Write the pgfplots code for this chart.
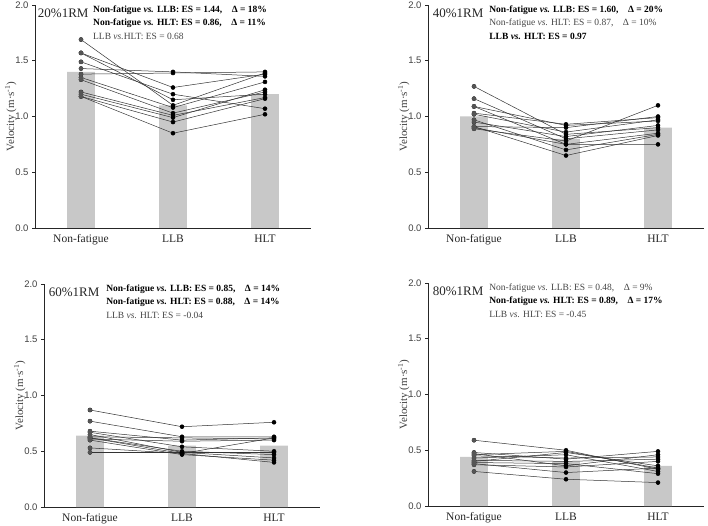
\documentclass[border=0pt]{standalone}
\usepackage{fontspec}
\setmainfont{Liberation Serif}
\setsansfont{Liberation Sans}
\usepackage{pgfplots}
\pgfplotsset{compat=1.18}
\usepackage{pgfplotstable}
\definecolor{barg}{RGB}{200,200,200}
\definecolor{nfg}{RGB}{85,85,85}
\definecolor{txtg}{RGB}{70,70,70}

% rows: x = 0 Non-fatigue, 1 LLB, 2 HLT ; columns: subjects
\pgfplotstableread{
x s1 s2 s3 s4 s5 s6 s7 s8 s9 s10 s11 s12
0 1.69 1.57 1.49 1.43 1.38 1.35 1.33 1.22 1.20 1.18 1.18 1.57
1 1.10 1.15 1.20 1.40 1.39 1.08 1.03 1.01 0.99 0.95 0.85 1.26
2 1.39 1.20 1.07 1.36 1.40 1.31 1.22 1.17 1.24 1.16 1.02 1.38
}\tabA
\pgfplotstableread{
x s1 s2 s3 s4 s5 s6 s7 s8 s9 s10 s11 s12
0 1.27 1.16 1.09 1.09 1.03 1.02 0.97 0.95 0.91 0.90 0.89 0.91
1 0.84 0.80 0.92 0.75 0.93 0.86 0.70 0.82 0.65 0.75 0.78 0.90
2 0.90 0.88 0.96 0.85 0.99 0.97 0.84 0.92 0.83 0.75 1.10 1.00
}\tabB
\pgfplotstableread{
x s1 s2 s3 s4 s5 s6 s7 s8 s9 s10 s11 s12
0 0.87 0.77 0.68 0.67 0.65 0.63 0.62 0.61 0.60 0.53 0.49 0.62
1 0.72 0.63 0.60 0.54 0.49 0.62 0.48 0.59 0.47 0.48 0.49 0.50
2 0.76 0.63 0.62 0.50 0.44 0.61 0.40 0.60 0.42 0.62 0.49 0.47
}\tabC
\pgfplotstableread{
x s1 s2 s3 s4 s5 s6 s7 s8 s9 s10 s11 s12
0 0.59 0.48 0.47 0.46 0.45 0.43 0.41 0.40 0.39 0.38 0.37 0.31
1 0.50 0.42 0.36 0.49 0.43 0.46 0.40 0.48 0.38 0.30 0.35 0.24
2 0.33 0.49 0.46 0.34 0.44 0.31 0.42 0.36 0.29 0.34 0.40 0.21
}\tabD

\pgfplotsset{vel/.style={
  scale only axis, width=276pt, height=223pt,
  xmin=-0.5, xmax=2.5, ymin=0, ymax=2,
  axis x line*=bottom, axis y line*=left,
  axis line style={-, black!85, line width=0.6pt},
  ytick={0,0.5,1,1.5,2},
  xtick={0,1,2}, xticklabels={Non-fatigue,LLB,HLT},
  tick align=outside, major tick length=3pt,
  y tick style={black!85, line width=0.6pt},
  x tick style={draw=none},
  y tick label style={font=\sffamily\fontsize{9.5}{11}\selectfont, text=black!75,
     /pgf/number format/.cd, fixed, fixed zerofill, precision=1, assume math mode=true},
  x tick label style={font=\fontsize{11.5}{13}\selectfont, text=black!85},
  ylabel={Velocity (m·s\textsuperscript{-1})},
  ylabel style={font=\fontsize{11}{13}\selectfont, text=black!75},
  ylabel shift=-8pt,
  clip=false,
}}

\newcommand{\subjects}[1]{%
  \pgfplotsinvokeforeach{1,...,12}{%
    \addplot[black!80, line width=0.5pt, mark=*, mark size=2pt, mark options={fill=black, draw=black}] table[x=x, y=s##1]{#1};
  }%
  \pgfplotsinvokeforeach{1,...,12}{%
    \addplot[only marks, mark=*, mark size=2pt, draw=nfg, fill=nfg, restrict x to domain=-0.1:0.1] table[x=x, y=s##1]{#1};
  }%
}

\tikzset{lab/.style={anchor=west, font=\fontsize{13}{15}\selectfont, inner sep=0pt, text=black!85},
         ann/.style={anchor=west, font=\fontsize{9.5}{11}\selectfont, inner sep=0pt}}

\begin{document}
\begin{tikzpicture}[x=1pt,y=1pt]
\useasboundingbox (0,0) rectangle (708,525);

% 20%
\begin{axis}[vel, at={(35pt,297pt)}, anchor=south west]
\addplot[ybar, bar width=0.3, fill=barg, draw=none] coordinates {(0,1.40) (1,1.10) (2,1.20)};
\subjects{\tabA}
\node[lab] at (axis cs:-0.47,1.93) {20\%1RM};
\node[ann] at (axis cs:0.13,1.95) {\textbf{Non-fatigue \textit{vs.} LLB: ES = 1.44,\quad Δ = 18\%}};
\node[ann] at (axis cs:0.13,1.833) {\textbf{Non-fatigue \textit{vs.} HLT: ES = 0.86,\quad Δ = 11\%}};
\node[ann, text=txtg] at (axis cs:0.13,1.716) {LLB \textit{vs.}HLT: ES = 0.68};
\end{axis}

% 40%
\begin{axis}[vel, at={(428pt,297pt)}, anchor=south west]
\addplot[ybar, bar width=0.3, fill=barg, draw=none] coordinates {(0,1.00) (1,0.80) (2,0.90)};
\subjects{\tabB}
\node[lab] at (axis cs:-0.45,1.93) {40\%1RM};
\node[ann] at (axis cs:0.165,1.95) {\textbf{Non-fatigue \textit{vs.} LLB: ES = 1.60,\quad Δ = 20\%}};
\node[ann, text=txtg] at (axis cs:0.165,1.833) {Non-fatigue \textit{vs.} HLT: ES = 0.87,\quad Δ = 10\%};
\node[ann] at (axis cs:0.165,1.716) {\textbf{LLB \textit{vs.} HLT: ES = 0.97}};
\end{axis}

% 60%
\begin{axis}[vel, at={(44pt,18pt)}, anchor=south west]
\addplot[ybar, bar width=0.3, fill=barg, draw=none] coordinates {(0,0.64) (1,0.55) (2,0.55)};
\subjects{\tabC}
\node[lab] at (axis cs:-0.45,1.93) {60\%1RM};
\node[ann] at (axis cs:0.175,1.95) {\textbf{Non-fatigue \textit{vs.} LLB: ES = 0.85,\quad Δ = 14\%}};
\node[ann] at (axis cs:0.175,1.833) {\textbf{Non-fatigue \textit{vs.} HLT: ES = 0.88,\quad Δ = 14\%}};
\node[ann, text=txtg] at (axis cs:0.175,1.716) {LLB \textit{vs.} HLT: ES = -0.04};
\end{axis}

% 80%
\begin{axis}[vel, at={(428pt,19pt)}, anchor=south west]
\addplot[ybar, bar width=0.3, fill=barg, draw=none] coordinates {(0,0.44) (1,0.40) (2,0.36)};
\subjects{\tabD}
\node[lab] at (axis cs:-0.45,1.93) {80\%1RM};
\node[ann, text=txtg] at (axis cs:0.165,1.95) {Non-fatigue \textit{vs.} LLB: ES = 0.48,\quad Δ = 9\%};
\node[ann] at (axis cs:0.165,1.833) {\textbf{Non-fatigue \textit{vs.} HLT: ES = 0.89,\quad Δ = 17\%}};
\node[ann, text=txtg] at (axis cs:0.165,1.716) {LLB \textit{vs.} HLT: ES = -0.45};
\end{axis}
\end{tikzpicture}
\end{document}
